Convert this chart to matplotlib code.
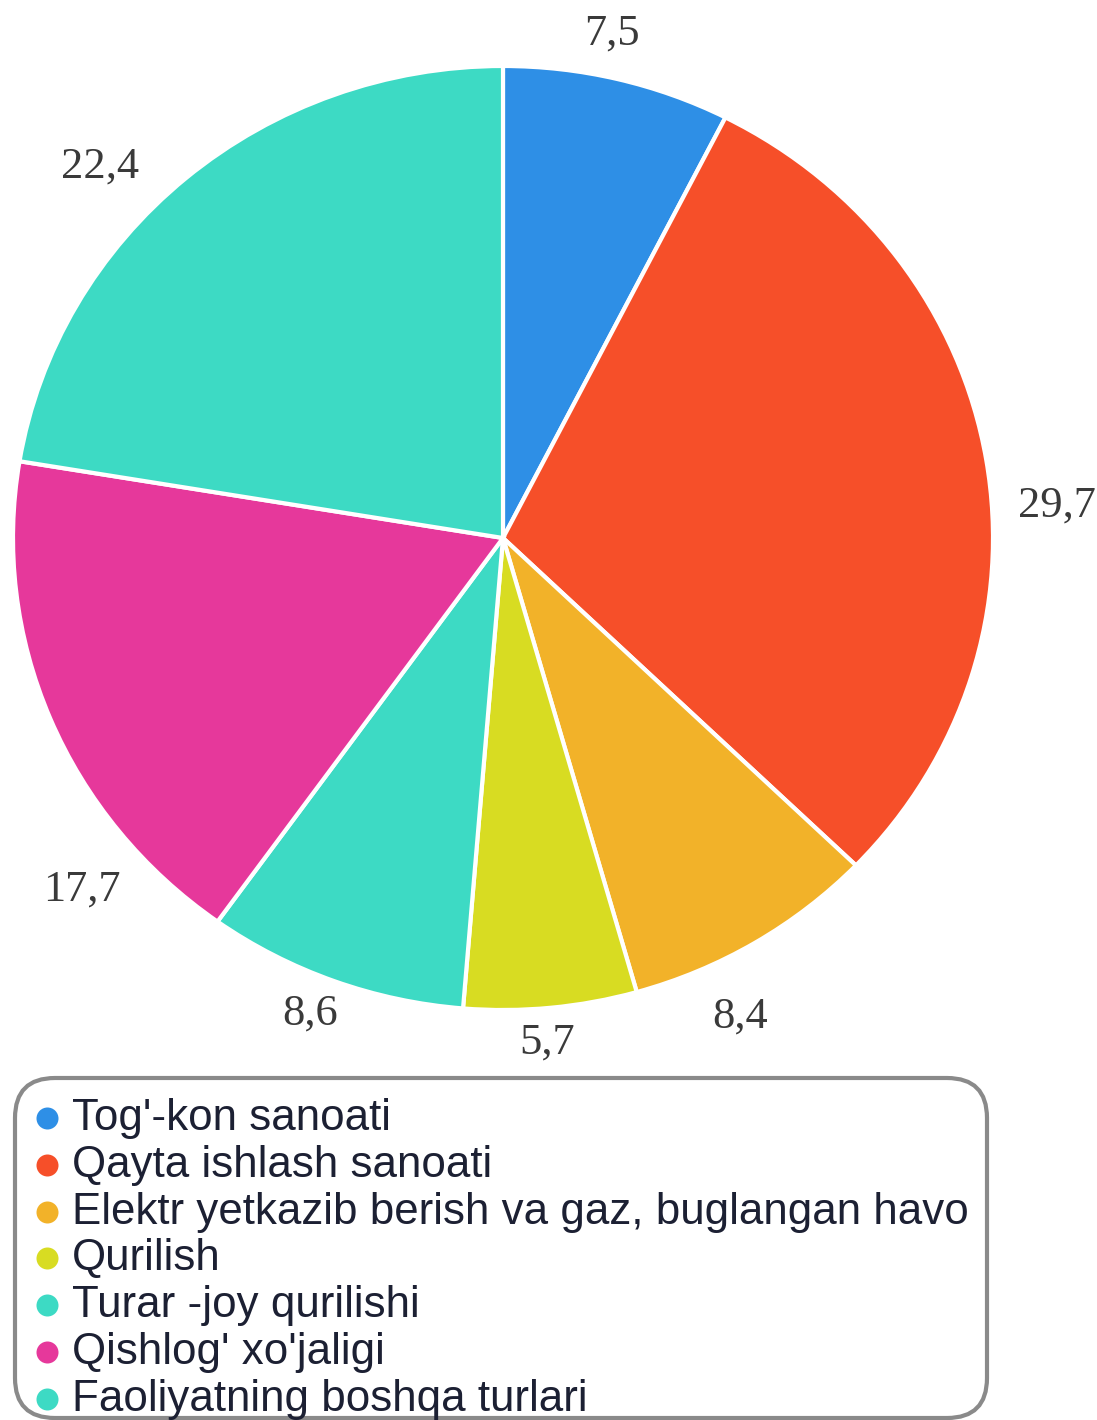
import matplotlib
matplotlib.use("Agg")
import matplotlib.pyplot as plt
from matplotlib.patches import FancyBboxPatch
from matplotlib.font_manager import FontProperties

categories = ["Tog'-kon sanoati", "Qayta ishlash sanoati",
              "Elektr yetkazib berish va gaz, buglangan havo", "Qurilish",
              "Turar -joy qurilishi", "Qishlog' xo'jaligi",
              "Faoliyatning boshqa turlari"]
values = [7.5, 29.7, 8.4, 5.7, 8.6, 17.7, 22.4]
value_labels = ["7,5", "29,7", "8,4", "5,7", "8,6", "17,7", "22,4"]
colors = ["#2e8fe6", "#f64f29", "#f2b229", "#d8dc22", "#3ddac4", "#e6389b", "#3ddac4"]

# label anchor positions (in pie units, layout only)
label_pos = [(0.222, 1.068), (1.131, 0.068), (0.484, -1.013), (0.090, -1.070),
             (-0.394, -1.008), (-0.859, -0.744), (-0.822, 0.788)]

W, H = 1097, 1420
fig = plt.figure(figsize=(W / 100, H / 100), dpi=100)
fig.patch.set_facecolor("white")

cx, cy, rx, ry = 503, 538, 490, 472
ax = fig.add_axes([(cx - rx) / W, (H - cy - ry) / H, 2 * rx / W, 2 * ry / H])
ax.pie(values, colors=colors, startangle=90, counterclock=False, radius=1,
       wedgeprops=dict(edgecolor="white", linewidth=3))
ax.set_aspect("auto")
ax.set_xlim(-1, 1)
ax.set_ylim(-1, 1)
ax.axis("off")
for (lx, ly), t in zip(label_pos, value_labels):
    ax.text(lx, ly, t, ha="center", va="center", fontsize=32,
            family="Liberation Serif", color="#3a3a3a", clip_on=False)

# overlay in pixel coords for legend
ov = fig.add_axes([0, 0, 1, 1])
ov.set_xlim(0, W)
ov.set_ylim(H, 0)
ov.axis("off")
box = FancyBboxPatch((15 + 40, 1078 + 40), 972 - 80, 340 - 80,
                     boxstyle="round,pad=40", facecolor="none",
                     edgecolor="#8a8a8a", linewidth=3)
ov.add_patch(box)

# fit legend font so the longest label spans ~896 px
fp = FontProperties(family="Liberation Sans", size=28)
renderer = fig.canvas.get_renderer()
t = ov.text(0, 0, categories[2], fontproperties=fp)
w = t.get_window_extent(renderer=renderer).width
t.remove()
fs = 28 * 896 / w

for i, (c, col) in enumerate(zip(categories, colors)):
    y = 1130 + 46.8 * i
    ov.scatter([47], [y - 12], s=(22 * 72 / 100) ** 2, color=col, zorder=3,
               clip_on=False, linewidths=0)
    ov.text(72, y, c, fontsize=fs, family="Liberation Sans", color="#1c2033",
            ha="left", va="baseline")

fig.savefig("out.png", dpi=100, facecolor="white")
